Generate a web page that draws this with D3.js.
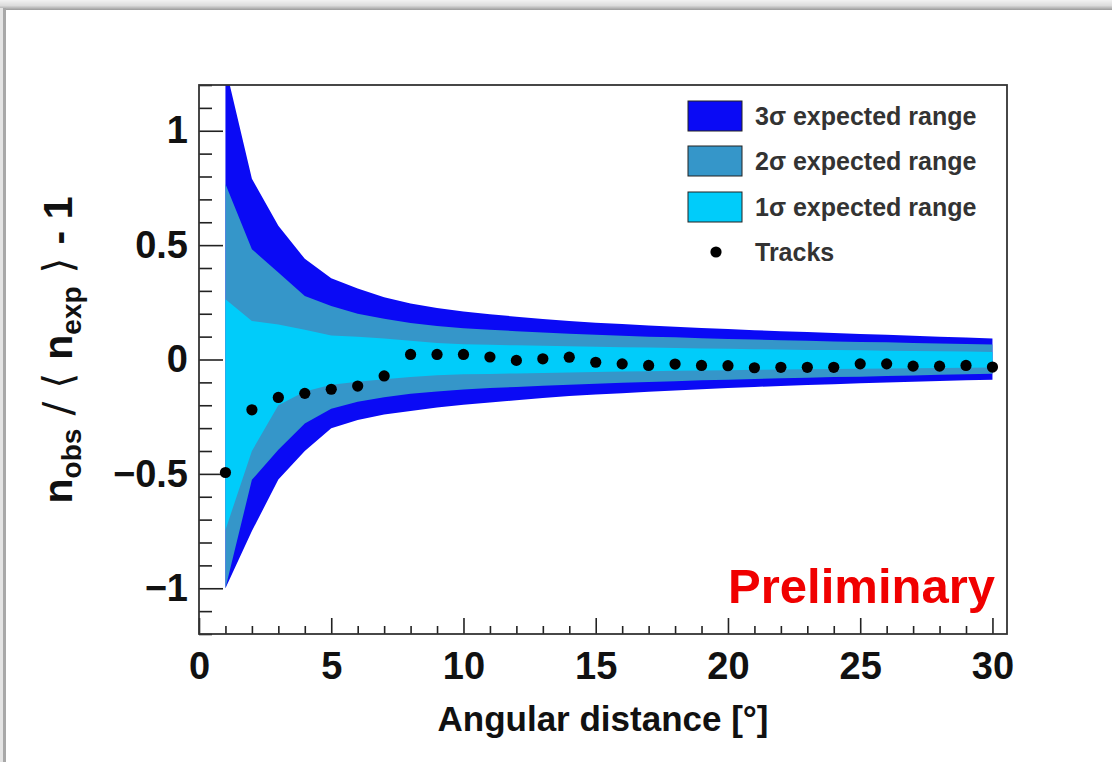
<!DOCTYPE html>
<html>
<head>
<meta charset="utf-8">
<script src="https://cdn.jsdelivr.net/npm/d3@7"></script>
<style>
  html, body { margin: 0; padding: 0; background: #ffffff; }
  svg { display: block; font-family: "Liberation Sans", Arial, Helvetica, sans-serif; }
</style>
</head>
<body>
<svg id="chart" width="1112" height="762"></svg>
<script>
// Angular distance bins (degrees)
const angles = d3.range(1, 31);

// Expected-range boundaries (relative deviation) per bin
const upper3 = [1.28, 0.79, 0.585, 0.44, 0.355, 0.31, 0.272, 0.245, 0.225, 0.21,
                0.198, 0.187, 0.177, 0.168, 0.161, 0.155, 0.149, 0.143, 0.138, 0.133,
                0.128, 0.124, 0.120, 0.116, 0.112, 0.108, 0.104, 0.100, 0.096, 0.092];
const upper2 = [0.767, 0.482, 0.38, 0.278, 0.234, 0.20, 0.178, 0.16, 0.146, 0.137,
                0.13, 0.124, 0.118, 0.113, 0.108, 0.104, 0.100, 0.097, 0.093, 0.090,
                0.087, 0.084, 0.082, 0.079, 0.077, 0.075, 0.072, 0.070, 0.068, 0.066];
const upper1 = [0.263, 0.168, 0.153, 0.13, 0.105, 0.10, 0.092, 0.082, 0.072, 0.067,
                0.064, 0.062, 0.060, 0.058, 0.056, 0.054, 0.052, 0.050, 0.048, 0.047,
                0.045, 0.044, 0.042, 0.041, 0.040, 0.038, 0.037, 0.036, 0.035, 0.033];
const lower1 = [-0.745, -0.40, -0.20, -0.14, -0.11, -0.097, -0.086, -0.076, -0.069, -0.065,
                -0.063, -0.061, -0.059, -0.057, -0.055, -0.053, -0.051, -0.049, -0.048, -0.047,
                -0.045, -0.044, -0.043, -0.042, -0.040, -0.039, -0.038, -0.037, -0.036, -0.035];
const lower2 = [-1.0, -0.526, -0.395, -0.28, -0.215, -0.185, -0.165, -0.15, -0.14, -0.131,
                -0.125, -0.12, -0.115, -0.110, -0.106, -0.102, -0.098, -0.095, -0.091, -0.088,
                -0.085, -0.082, -0.080, -0.077, -0.075, -0.072, -0.070, -0.067, -0.065, -0.062];
const lower3 = [-1.0, -0.75, -0.525, -0.40, -0.30, -0.265, -0.24, -0.225, -0.21, -0.198,
                -0.188, -0.178, -0.168, -0.160, -0.153, -0.147, -0.141, -0.135, -0.130, -0.125,
                -0.120, -0.116, -0.112, -0.108, -0.104, -0.100, -0.097, -0.094, -0.091, -0.088];

// Observed tracks: n_obs / <n_exp> - 1
const tracks = [-0.494, -0.22, -0.166, -0.148, -0.13, -0.116, -0.072, 0.022, 0.022, 0.022,
                0.011, -0.004, 0.003, 0.010, -0.012, -0.019, -0.026, -0.020, -0.026, -0.027,
                -0.036, -0.034, -0.034, -0.034, -0.019, -0.019, -0.029, -0.029, -0.026, -0.033];

// Axis ticks
const xMajorTicks = [0, 5, 10, 15, 20, 25, 30];
const yMajorTicks = [-1, -0.5, 0, 0.5, 1];

// Legend entries
const legendLabels = ["3\u03c3 expected range", "2\u03c3 expected range", "1\u03c3 expected range", "Tracks"];

const colors = { s3: "#0a0af5", s2: "#3596c9", s1: "#00ccfa" };

const svg = d3.select("#chart");
const W = 1112, H = 762;
const frame = { left: 199, right: 1007, top: 85, bottom: 634 };

// Card edge / shadow around the canvas
const defs = svg.append("defs");
const grad = defs.append("linearGradient").attr("id", "topShade").attr("x1", 0).attr("y1", 0).attr("x2", 0).attr("y2", 1);
grad.append("stop").attr("offset", "0%").attr("stop-color", "#f2f2f2");
grad.append("stop").attr("offset", "55%").attr("stop-color", "#dcdcdc");
grad.append("stop").attr("offset", "100%").attr("stop-color", "#9a9a9a");
svg.append("rect").attr("x", 0).attr("y", 0).attr("width", W).attr("height", 10).attr("fill", "url(#topShade)");
svg.append("rect").attr("x", 3).attr("y", 8).attr("width", 3).attr("height", H - 8).attr("fill", "#a8a8a8");
svg.append("rect").attr("x", 0).attr("y", 8).attr("width", 3).attr("height", H - 8).attr("fill", "#e4e4e4");

const x = d3.scaleLinear().domain([0, 30.55]).range([frame.left, frame.right]);
const y = d3.scaleLinear().domain([-1.2, 1.2]).range([frame.bottom, frame.top]);

defs.append("clipPath").attr("id", "plotClip")
  .append("rect")
  .attr("x", frame.left).attr("y", frame.top)
  .attr("width", frame.right - frame.left).attr("height", frame.bottom - frame.top);

const plot = svg.append("g").attr("clip-path", "url(#plotClip)");

function band(lo, hi) {
  return d3.area()
    .x((d, i) => x(angles[i]))
    .y0((d, i) => y(lo[i]))
    .y1((d, i) => y(hi[i]))(angles);
}

plot.append("path").attr("d", band(lower3, upper3)).attr("fill", colors.s3);
plot.append("path").attr("d", band(lower2, upper2)).attr("fill", colors.s2);
plot.append("path").attr("d", band(lower1, upper1)).attr("fill", colors.s1);

// Axes: ticks drawn inward, ROOT style
const tickColor = "#222";
const yAxisMinor = d3.axisLeft(y)
  .tickValues(d3.range(-12, 13).map(v => v / 10).filter(v => Math.abs(v * 2 - Math.round(v * 2)) > 1e-6))
  .tickSizeInner(-13).tickSizeOuter(0).tickFormat("");
const yAxisMajor = d3.axisLeft(y)
  .tickValues(yMajorTicks).tickSizeInner(-24).tickSizeOuter(0).tickPadding(11)
  .tickFormat(d => d < 0 ? "\u2212" + Math.abs(d) : String(d));
const xAxisMinor = d3.axisBottom(x)
  .tickValues(angles.filter(v => v % 5 !== 0))
  .tickSizeInner(-8).tickSizeOuter(0).tickFormat("");
const xAxisMajor = d3.axisBottom(x)
  .tickValues(xMajorTicks).tickSizeInner(-16).tickSizeOuter(0).tickPadding(18)
  .tickFormat(d3.format("d"));

function styleAxis(g) {
  g.select(".domain").remove();
  g.selectAll(".tick line").attr("stroke", tickColor).attr("stroke-width", 1.6);
  g.selectAll(".tick text")
    .attr("fill", "#111")
    .attr("font-size", 38)
    .attr("font-weight", "bold")
    .attr("font-family", "'Liberation Sans', Arial, sans-serif");
}

svg.append("g").attr("transform", `translate(${frame.left},0)`).call(yAxisMinor).call(styleAxis);
svg.append("g").attr("transform", `translate(${frame.left},0)`).call(yAxisMajor).call(styleAxis);
svg.append("g").attr("transform", `translate(0,${frame.bottom})`).call(xAxisMinor).call(styleAxis);
svg.append("g").attr("transform", `translate(0,${frame.bottom})`).call(xAxisMajor).call(styleAxis);

// Frame
svg.append("rect")
  .attr("x", frame.left).attr("y", frame.top)
  .attr("width", frame.right - frame.left).attr("height", frame.bottom - frame.top)
  .attr("fill", "none").attr("stroke", "#333").attr("stroke-width", 1.8);

// Data points
svg.append("g").selectAll("circle")
  .data(tracks)
  .join("circle")
  .attr("cx", (d, i) => x(angles[i]))
  .attr("cy", d => y(d))
  .attr("r", 5.6)
  .attr("fill", "#000");

// Axis titles
svg.append("text")
  .attr("x", (frame.left + frame.right) / 2)
  .attr("y", 731)
  .attr("text-anchor", "middle")
  .attr("font-size", 35)
  .attr("font-weight", "bold")
  .attr("fill", "#111")
  .text("Angular distance [\u00b0]");

const yTitle = svg.append("text")
  .attr("transform", "translate(72,350) rotate(-90)")
  .attr("text-anchor", "middle")
  .attr("font-size", 41)
  .attr("font-weight", "bold")
  .attr("fill", "#111");
yTitle.append("tspan").text("n");
yTitle.append("tspan").attr("font-size", 28).attr("dy", 9).text("obs");
yTitle.append("tspan").attr("dy", -9).attr("font-weight", "normal").attr("font-family", "'DejaVu Sans', sans-serif").text(" / \u27e8 ");
yTitle.append("tspan").text("n");
yTitle.append("tspan").attr("font-size", 28).attr("dy", 9).text("exp");
yTitle.append("tspan").attr("dy", -9).attr("font-weight", "normal").attr("font-family", "'DejaVu Sans', sans-serif").text(" \u27e9 ");
yTitle.append("tspan").text("- 1");

// Preliminary stamp
svg.append("text")
  .attr("x", 995).attr("y", 603)
  .attr("text-anchor", "end")
  .attr("font-size", 49)
  .attr("font-weight", "bold")
  .attr("fill", "#f00000")
  .text("Preliminary");

// Legend
const legend = svg.append("g");
const legendRows = [116, 161, 207, 252];
const legendFills = [colors.s3, colors.s2, colors.s1];
legendFills.forEach((c, i) => {
  legend.append("rect")
    .attr("x", 688).attr("y", legendRows[i] - 15)
    .attr("width", 54).attr("height", 30)
    .attr("fill", c).attr("stroke", "#222").attr("stroke-width", 1);
});
legend.append("circle").attr("cx", 716).attr("cy", legendRows[3]).attr("r", 5.6).attr("fill", "#000");
legendLabels.forEach((t, i) => {
  legend.append("text")
    .attr("x", 755).attr("y", legendRows[i] + 9)
    .attr("font-size", 25)
    .attr("font-weight", "bold")
    .attr("fill", "#333")
    .text(t);
});
</script>
</body>
</html>
